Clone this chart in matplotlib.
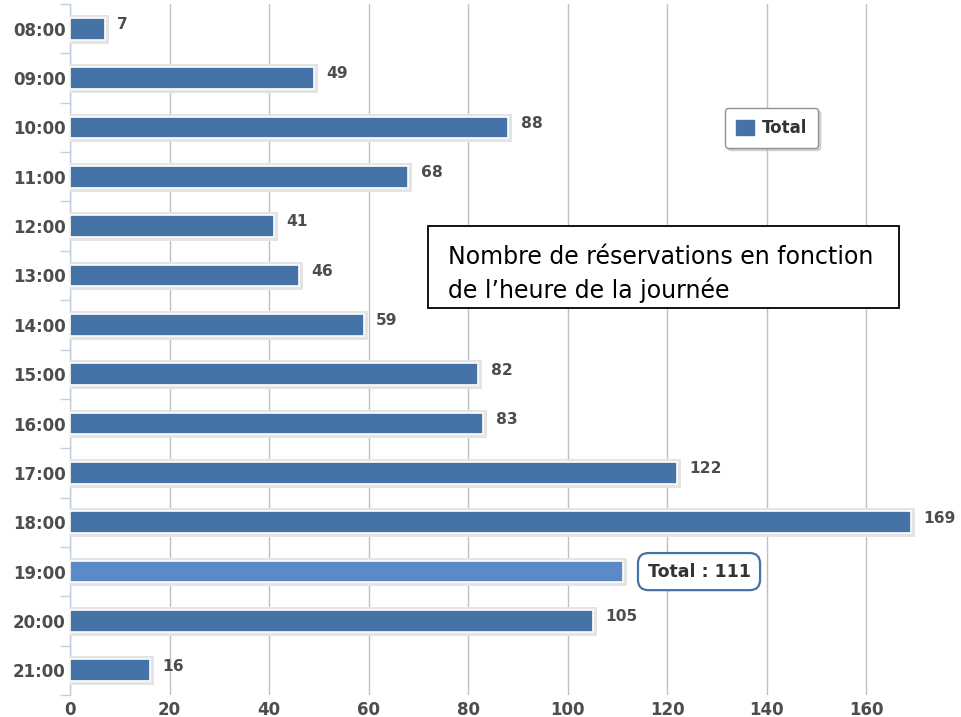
import matplotlib.pyplot as plt
import matplotlib.patheffects as pe
from matplotlib.patches import Patch, Rectangle

hours = ['08:00', '09:00', '10:00', '11:00', '12:00', '13:00', '14:00',
         '15:00', '16:00', '17:00', '18:00', '19:00', '20:00', '21:00']
totals = [7, 49, 88, 68, 41, 46, 59, 82, 83, 122, 169, 111, 105, 16]
hover_hour = '19:00'

bar_color = '#4572A7'
hover_color = '#5B8AC6'
label_color = '#4D4D4D'

fig = plt.figure(figsize=(9.61, 7.17), dpi=100)
ax = fig.add_axes([70 / 961, 22 / 717, 1 - 70 / 961, 691 / 717])

ypos = list(range(len(hours)))
colors = [hover_color if h == hover_hour else bar_color for h in hours]
bars = ax.barh(ypos, totals, height=0.44, color=colors, edgecolor='white',
               linewidth=1.2, zorder=3)
for b in bars:
    b.set_path_effects([pe.withStroke(linewidth=5, foreground='#E4E4E4')])

# data labels (the hovered bar shows a tooltip instead)
for y, h, v in zip(ypos, hours, totals):
    if h == hover_hour:
        ax.annotate(f'Total : {v}', xy=(v, y), xytext=(18, 0),
                    textcoords='offset points', va='center', ha='left',
                    fontsize=12.5, fontweight='bold', color='#333333', zorder=6,
                    bbox=dict(boxstyle='round,pad=0.55,rounding_size=0.6',
                              fc='white', ec=bar_color, lw=1.6))
    else:
        ax.annotate(str(v), xy=(v, y), xytext=(9, 3),
                    textcoords='offset points', va='center', ha='left',
                    fontsize=11.2, fontweight='bold', color=label_color,
                    zorder=5, annotation_clip=False)

ax.set_xlim(0, 179)
ax.set_ylim(len(hours) - 0.5, -0.5)
ax.set_xticks(range(0, 161, 20))
ax.set_yticks(ypos)
ax.set_yticklabels(hours)
ax.set_yticks([i + 0.5 for i in range(-1, len(hours))], minor=True)

ax.grid(axis='x', color='#C0C0C0', linewidth=1, zorder=0)
ax.set_axisbelow(True)
for s in ['top', 'right', 'bottom']:
    ax.spines[s].set_visible(False)
ax.spines['left'].set_color('#C0D0E0')
ax.spines['left'].set_linewidth(1)

ax.tick_params(axis='y', which='major', length=0, pad=3)
ax.tick_params(axis='y', which='minor', length=7, color='#C0D0E0', width=1)
ax.tick_params(axis='x', which='major', length=0, pad=4)
for lab in ax.get_xticklabels() + ax.get_yticklabels():
    lab.set_fontweight('bold')
    lab.set_fontsize(12)
    lab.set_color(label_color)

leg = ax.legend(handles=[Patch(facecolor=bar_color, edgecolor=bar_color, label='Total')],
                loc='upper left', bbox_to_anchor=((725 - 70) / 891, 1 - (108 - 4) / 691),
                frameon=True, fancybox=True, shadow={'color': '#BBBBBB', 'alpha': 0.6},
                handlelength=1.1, handleheight=1.0, handletextpad=0.45,
                borderpad=0.65, borderaxespad=0,
                prop={'weight': 'bold', 'size': 12})
leg.get_frame().set_edgecolor('#909090')
for t in leg.get_texts():
    t.set_color('#333333')

# annotation box drawn over the chart
fig.patches.append(Rectangle((428 / 961, 1 - 308 / 717), 471 / 961, 82 / 717,
                             transform=fig.transFigure, fc='white', ec='black',
                             lw=1.3, zorder=10))
fig.text(448 / 961, 1 - 274 / 717,
         'Nombre de réservations en fonction\nde l\u2019heure de la journée',
         fontsize=17, color='black', va='center', ha='left', linespacing=1.45,
         zorder=11)

fig.savefig('out.png', dpi=100)
